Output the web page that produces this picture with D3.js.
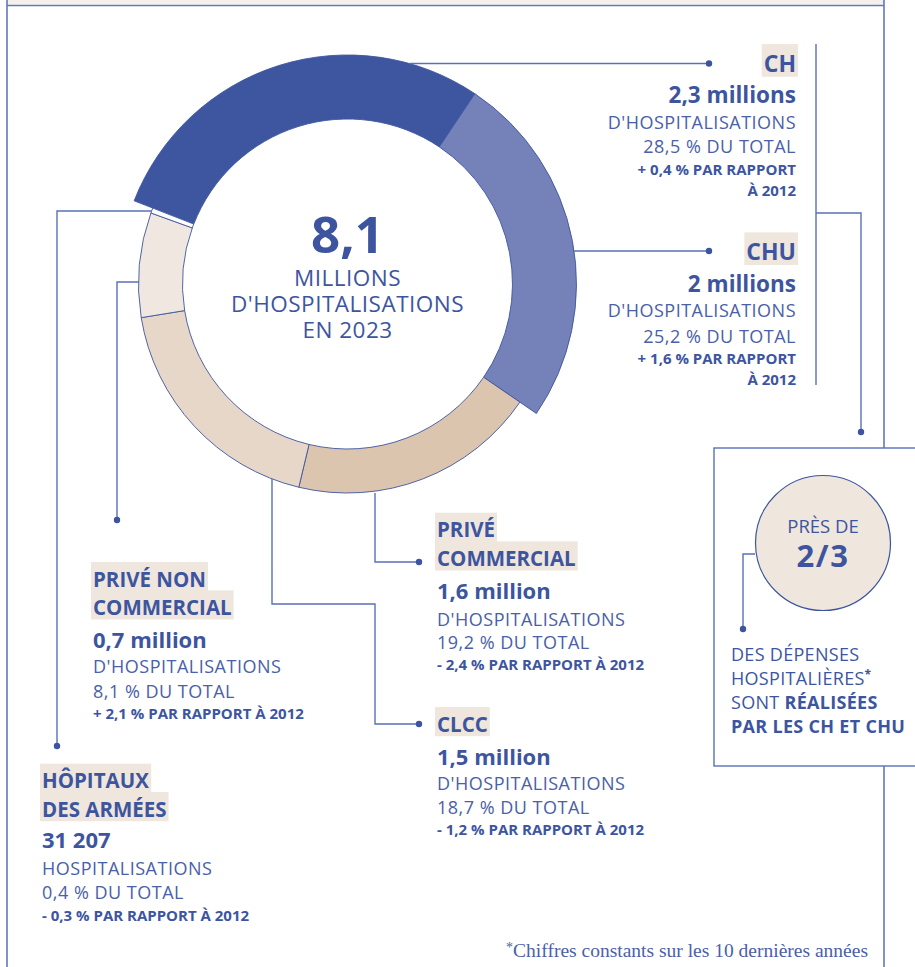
<html>
<head>
    <meta charset="utf-8">
    <title>Hospitalisations 2023</title>
    <script src="https://d3js.org/d3.v7.min.js"></script>
    <style>
        body { margin: 0; background: #fff; }
        text { font-family: "Open Sans", sans-serif; }
    </style>
    <script>
        // data
        categories = ["CH", "CHU", "PRIVÉ COMMERCIAL", "CLCC", "PRIVÉ NON COMMERCIAL", "HÔPITAUX DES ARMÉES"];
        shares = [28.5, 25.2, 19.2, 18.7, 8.1, 0.4];
        volumes = ["2,3 millions", "2 millions", "1,6 million", "1,5 million", "0,7 million", "31 207"];
        units = ["D'HOSPITALISATIONS", "D'HOSPITALISATIONS", "D'HOSPITALISATIONS", "D'HOSPITALISATIONS", "D'HOSPITALISATIONS", "HOSPITALISATIONS"];
        changes = ["+ 0,4 %", "+ 1,6 %", "- 2,4 %", "- 1,2 %", "+ 2,1 %", "- 0,3 %"];
        totalLabel = "8,1";
        colors = ["#3e56a0", "#7581b9", "#dcc5ae", "#e7d7c8", "#f0e8e0", "#ffffff"];

        width = 915;
        height = 967;
        cx = 347.5;
        cy = 284;
        innerR = 165;
        blue = "#3d559f";
        lineBlue = "#5b70b7";
        hiFill = "#efe6dd";

        // label blocks: where each category's text goes
        blocks = [
            { x: 796, anchor: "end", title: ["CH"], ty: [71.7], tf: 23, vy: 102.7, vf: 22.5, ly: [129, 153], sy: [175, 195.7] },
            { x: 796, anchor: "end", title: ["CHU"], ty: [260], tf: 23, vy: 291.7, vf: 22.5, ly: [317.3, 343.3], sy: [364.3, 385] },
            { x: 437, anchor: "start", title: ["PRIVÉ", "COMMERCIAL"], ty: [537.3, 566], tf: 20.5, vy: 599.3, vf: 22, ly: [626, 649.3], sy: [670] },
            { x: 437, anchor: "start", title: ["CLCC"], ty: [731.7], tf: 20.5, vy: 765, vf: 22, ly: [790, 814], sy: [835] },
            { x: 93, anchor: "start", title: ["PRIVÉ NON", "COMMERCIAL"], ty: [586.7, 615], tf: 20.5, vy: 648, vf: 22, ly: [673, 697.7], sy: [719.3] },
            { x: 42, anchor: "start", title: ["HÔPITAUX", "DES ARMÉES"], ty: [788.3, 816.7], tf: 20.5, vy: 848.3, vf: 22, ly: [875, 899.3], sy: [921] }
        ];

        window.onload = function() {
            svg = d3.select("#chart")
                .append("svg")
                    .attr("width", width)
                    .attr("height", height);

            // frame
            svg.append("rect")
                .attr("x", 7).attr("y", 0).attr("width", 877).attr("height", 4.5)
                .attr("fill", "#f6f0ea");
            svg.append("path")
                .attr("d", "M7,0 V" + height + " M7,5.5 H884 M884,0 V" + height)
                .attr("fill", "none")
                .attr("stroke", "#6477ba")
                .attr("stroke-width", 1.6);

            // donut
            pie = d3.pie()
                .sort(null)
                .value(function(d) { return d; })
                .startAngle(-68.7 * Math.PI / 180)
                .endAngle(-68.7 * Math.PI / 180 + 2 * Math.PI);

            arc = d3.arc()
                .innerRadius(innerR)
                .outerRadius(function(d) { return d.index < 2 ? 229 : 209; });

            g = svg.append("g").attr("transform", `translate(${cx},${cy})`);
            g.selectAll("path")
                .data(pie(shares))
                .enter()
                .append("path")
                    .attr("d", arc)
                    .attr("fill", function(d, i) { return colors[i]; })
                    .attr("stroke", function(d, i) { return i == 0 ? colors[0] : blue; })
                    .attr("stroke-width", 0.9);

            // centre text, one text element
            centre = g.append("text")
                .attr("text-anchor", "middle")
                .attr("fill", blue);
            centre.append("tspan")
                .attr("x", 0).attr("y", -31)
                .attr("font-size", 51).attr("font-weight", 700)
                .text(totalLabel);
            ["MILLIONS", "D'HOSPITALISATIONS", "EN 2023"].forEach(function(t, i) {
                centre.append("tspan")
                    .attr("x", 0).attr("y", 2 + i * 26)
                    .attr("font-size", 22.5).attr("letter-spacing", 0.5)
                    .text(t);
            });

            // leader lines
            leaders = [
                "M410,63.5 H709",
                "M574,251 H709",
                "M816,44 V385 M816,213 H861 V432",
                "M152,211 H57 V746",
                "M139,282 H117 V520",
                "M375,493 V562 H419",
                "M272,479 V604 H375 V724 H419"
            ];
            dots = [[709, 63.5], [709, 251], [861, 432], [57, 746], [117, 520], [419, 562], [419, 724], [743, 629]];
            svg.append("path")
                .attr("d", leaders.join(" "))
                .attr("fill", "none")
                .attr("stroke", lineBlue)
                .attr("stroke-width", 1.4);

            // box on the right
            svg.append("rect")
                .attr("x", 714).attr("y", 448).attr("width", 240).attr("height", 318)
                .attr("fill", "#fff").attr("stroke", lineBlue).attr("stroke-width", 1.4);
            svg.append("path")
                .attr("d", "M755,554 H743 V629")
                .attr("fill", "none").attr("stroke", lineBlue).attr("stroke-width", 1.4);
            svg.append("circle")
                .attr("cx", 823).attr("cy", 543).attr("r", 67.5)
                .attr("fill", hiFill).attr("stroke", blue).attr("stroke-width", 1.2);
            svg.append("text")
                .attr("x", 823).attr("y", 533).attr("text-anchor", "middle")
                .attr("font-size", 18.5).attr("fill", blue).text("PRÈS DE");
            svg.append("text")
                .attr("x", 823).attr("y", 567).attr("text-anchor", "middle")
                .attr("font-size", 31).attr("letter-spacing", 1.5).attr("font-weight", 700).attr("fill", blue).text("2/3");

            boxLines = [
                [["DES DÉPENSES", 400]],
                [["HOSPITALIÈRES", 400], ["*", 700, true]],
                [["SONT ", 400], ["RÉALISÉES", 700]],
                [["PAR LES CH ET CHU", 700]]
            ];
            boxLines.forEach(function(parts, i) {
                t = svg.append("text")
                    .attr("x", 731).attr("y", 661 + i * 24)
                    .attr("font-size", 18).attr("letter-spacing", 0.3).attr("fill", blue);
                parts.forEach(function(p) {
                    s = t.append("tspan").attr("font-weight", p[1]).text(p[0]);
                    if (p[2]) s.attr("dy", -6).attr("font-size", 12);
                });
            });

            svg.selectAll("circle.dot")
                .data(dots)
                .enter()
                .append("circle")
                    .attr("class", "dot")
                    .attr("cx", function(d) { return d[0]; })
                    .attr("cy", function(d) { return d[1]; })
                    .attr("r", 3.2)
                    .attr("fill", blue);

            // category labels
            blocks.forEach(function(b, i) {
                lab = svg.append("g");
                b.title.forEach(function(t, j) {
                    hi = lab.append("rect").attr("fill", hiFill);
                    tx = lab.append("text")
                        .attr("x", b.x).attr("y", b.ty[j])
                        .attr("text-anchor", b.anchor)
                        .attr("font-size", b.tf).attr("font-weight", 700).attr("fill", blue)
                        .text(t);
                    bb = tx.node().getBBox();
                    hi.attr("x", bb.x - 2).attr("width", bb.width + 4)
                        .attr("y", b.ty[j] - 1.2 * b.tf).attr("height", 1.42 * b.tf);
                });
                lab.append("text")
                    .attr("x", b.x).attr("y", b.vy).attr("text-anchor", b.anchor)
                    .attr("font-size", b.vf).attr("font-weight", 700).attr("fill", blue)
                    .text(volumes[i]);
                [units[i], String(shares[i]).replace(".", ",") + " % DU TOTAL"].forEach(function(t, j) {
                    lab.append("text")
                        .attr("x", b.x).attr("y", b.ly[j]).attr("text-anchor", b.anchor)
                        .attr("font-size", 18).attr("letter-spacing", 0.5).attr("fill", "#4a60a8")
                        .text(t);
                });
                small = b.sy.length == 2
                    ? [changes[i] + " PAR RAPPORT", "À 2012"]
                    : [changes[i] + " PAR RAPPORT À 2012"];
                small.forEach(function(t, j) {
                    lab.append("text")
                        .attr("x", b.x).attr("y", b.sy[j]).attr("text-anchor", b.anchor)
                        .attr("font-size", 15).attr("font-weight", 700).attr("fill", blue)
                        .text(t);
                });
            });

            // footnote
            fn = svg.append("text")
                .attr("x", 868).attr("y", 957).attr("text-anchor", "end")
                .attr("font-size", 19.5).attr("fill", "#4a60a8")
                .style("font-family", "'Liberation Serif', serif");
            fn.append("tspan").attr("font-size", 14).attr("dy", -5).text("*");
            fn.append("tspan").attr("dy", 5).text("Chiffres constants sur les 10 dernières années");
        }
    </script>
</head>
<body>
    <div id="chart"></div>
</body>
</html>
